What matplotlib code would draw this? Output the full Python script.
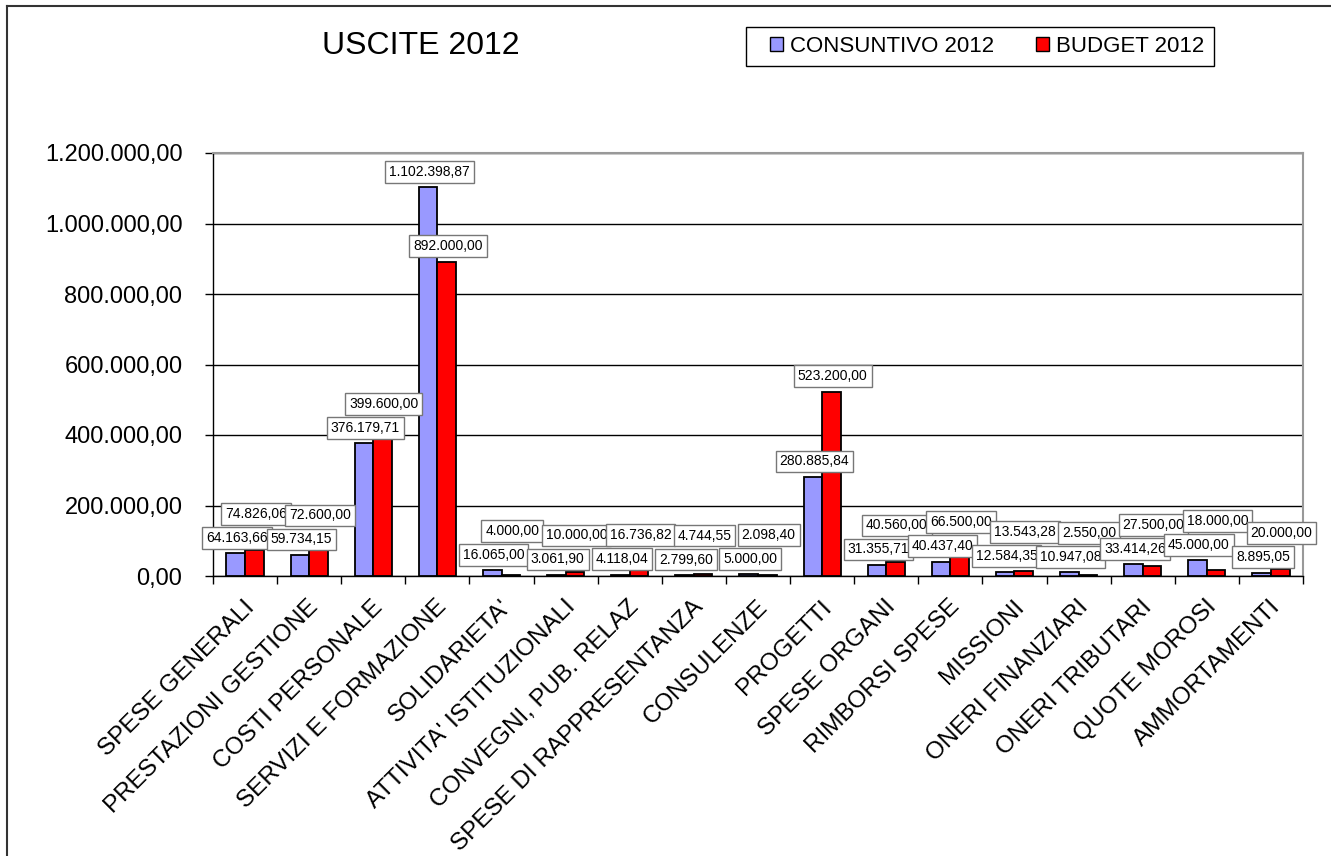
import matplotlib
matplotlib.use("Agg")
import matplotlib.pyplot as plt
import matplotlib.transforms as mtransforms
from matplotlib.lines import Line2D
from matplotlib.patches import Patch, Rectangle
import numpy as np

plt.rcParams['font.family'] = ['Liberation Sans', 'DejaVu Sans']

categories = ['SPESE GENERALI', 'PRESTAZIONI GESTIONE', 'COSTI PERSONALE',
              'SERVIZI E FORMAZIONE', "SOLIDARIETA'", "ATTIVITA' ISTITUZIONALI",
              'CONVEGNI, PUB. RELAZ', 'SPESE DI RAPPRESENTANZA', 'CONSULENZE',
              'PROGETTI', 'SPESE ORGANI', 'RIMBORSI SPESE', 'MISSIONI',
              'ONERI FINANZIARI', 'ONERI TRIBUTARI', 'QUOTE MOROSI', 'AMMORTAMENTI']
consuntivo = [64163.66, 59734.15, 376179.71, 1102398.87, 16065.00, 3061.90,
              4118.04, 2799.60, 5000.00, 280885.84, 31355.71, 40437.40,
              12584.35, 10947.08, 33414.26, 45000.00, 8895.05]
budget = [74826.06, 72600.00, 399600.00, 892000.00, 4000.00, 10000.00,
          16736.82, 4744.55, 2098.40, 523200.00, 40560.00, 66500.00,
          13543.28, 2550.00, 27500.00, 18000.00, 20000.00]
yticks = [0, 200000, 400000, 600000, 800000, 1000000, 1200000]


def fmt_it(v):
    s = f"{v:,.2f}"
    return s.replace(',', 'X').replace('.', ',').replace('X', '.')


W, H = 1331, 856
fig = plt.figure(figsize=(W / 100, H / 100), dpi=100)
ax = fig.add_axes([213 / W, 1 - 576 / H, (1303 - 213) / W, (576 - 153) / H])

x = np.arange(len(categories))
bw = 0.29
ax.bar(x - bw / 2, consuntivo, bw, color='#9999FF', edgecolor='black', linewidth=1.3,
       label='CONSUNTIVO 2012', zorder=3)
ax.bar(x + bw / 2, budget, bw, color='#FF0000', edgecolor='black', linewidth=1.3,
       label='BUDGET 2012', zorder=3)

ax.set_xlim(-0.5, len(categories) - 0.5)
ax.set_ylim(0, 1200000)
ax.set_yticks(yticks)
ax.set_yticklabels([fmt_it(v) for v in yticks], fontsize=17)
ax.tick_params(axis='y', direction='out', length=6, width=1, pad=16)
ax.yaxis.grid(True, color='black', linewidth=1, zorder=0)

ax.set_xticks(x)
ax.set_xticklabels(categories, rotation=45, ha='right', va='center',
                   rotation_mode='anchor', fontsize=17.5)
ax.set_xticks(np.arange(len(categories) + 1) - 0.5, minor=True)
ax.tick_params(axis='x', which='major', length=0, pad=20)
ax.tick_params(axis='x', which='minor', direction='out', length=6, width=1)
shift = mtransforms.ScaledTranslation(6 / 100, 0, fig.dpi_scale_trans)
for lbl in ax.get_xticklabels():
    lbl.set_transform(lbl.get_transform() + shift)

for s in ['top', 'right']:
    ax.spines[s].set_color('#999999')
    ax.spines[s].set_linewidth(1.5)
for s in ['left', 'bottom']:
    ax.spines[s].set_color('black')
    ax.spines[s].set_linewidth(1)

# data labels: place above each bar, push budget label up when they collide
px_per_unit = (576 - 153) / 1200000
for i in range(len(categories)):
    yc = consuntivo[i] * px_per_unit + 15.5
    yb = budget[i] * px_per_unit + 15.5
    if abs(yb - yc) < 24:
        yb = yc + 24
    for xv, val, ypix in [(x[i] - bw / 2, consuntivo[i], yc), (x[i] + bw / 2, budget[i], yb)]:
        ax.annotate(fmt_it(val), xy=(xv, val), xytext=(1, (ypix - val * px_per_unit) * 0.72),
                    textcoords='offset points', ha='center', va='center', fontsize=10,
                    bbox=dict(boxstyle='square,pad=0.28', facecolor='white', edgecolor='#777777',
                              linewidth=1), zorder=5, annotation_clip=False)

fig.text(421 / W, 1 - 46 / H, 'USCITE 2012', ha='center', va='center', fontsize=23)

handles = [Patch(facecolor='#9999FF', edgecolor='black', linewidth=1, label='CONSUNTIVO 2012'),
           Patch(facecolor='#FF0000', edgecolor='black', linewidth=1, label='BUDGET 2012')]
leg = fig.legend(handles=handles, loc='center', ncol=2,
                 bbox_to_anchor=(987 / W, 1 - 46.5 / H),
                 fontsize=16, frameon=False,
                 handlelength=0.6, handleheight=0.6, handletextpad=0.3,
                 columnspacing=1.9, borderpad=0.2, borderaxespad=0)
fig.add_artist(Rectangle((746 / W, 1 - 66 / H), (1214 - 746) / W, 39 / H,
                         transform=fig.transFigure, facecolor='none',
                         edgecolor='black', linewidth=1))

# outer chart frame (left and top edges visible)
fig.add_artist(Line2D([7 / W, 7 / W], [0, 1 - 6 / H], transform=fig.transFigure,
                      color='#333333', linewidth=1.5))
fig.add_artist(Line2D([7 / W, 1], [1 - 6 / H, 1 - 6 / H], transform=fig.transFigure,
                      color='#333333', linewidth=1.5))

fig.savefig('out.png', dpi=100)
